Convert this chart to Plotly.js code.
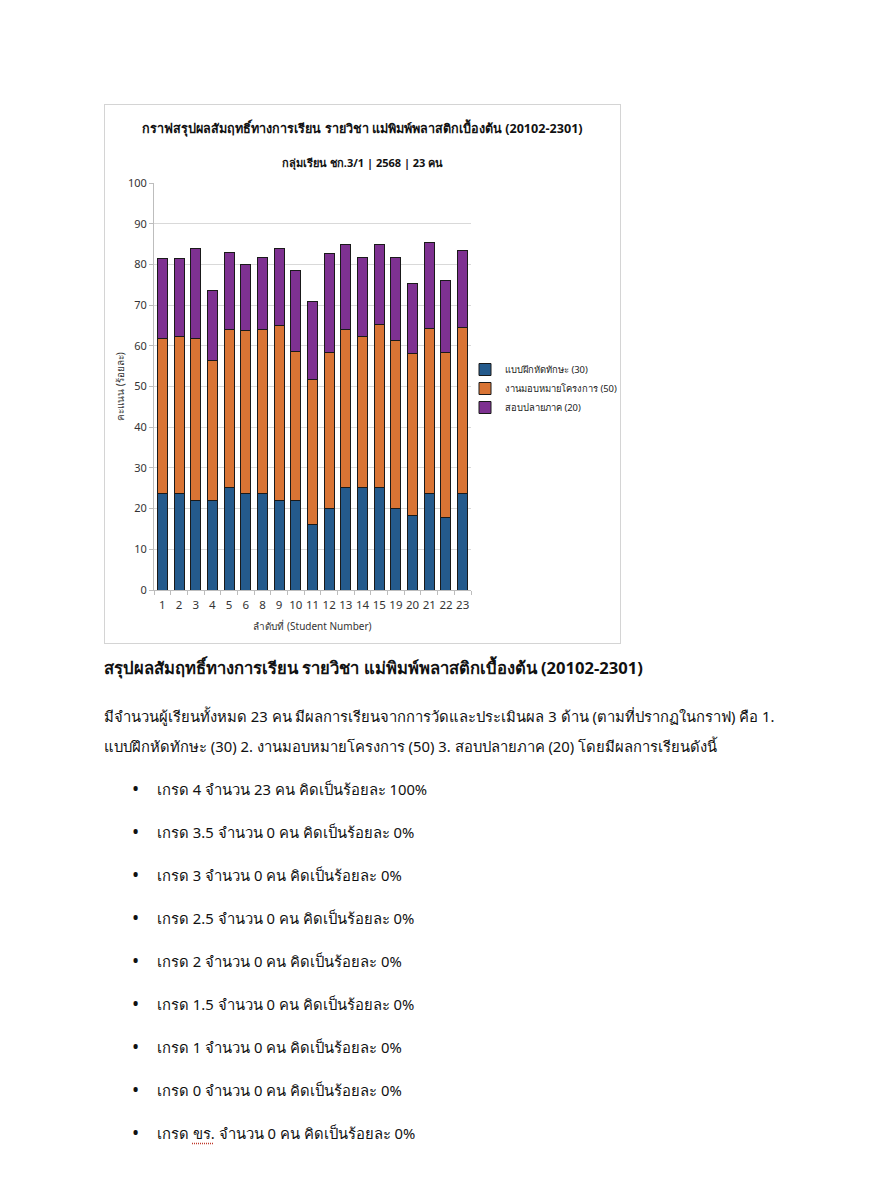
<!DOCTYPE html>
<html>
<head>
<meta charset="utf-8">
<script src="https://cdn.plot.ly/plotly-3.0.1.min.js"></script>
<style>
  html, body { margin: 0; padding: 0; background: #ffffff; }
  body { width: 880px; height: 1187px; position: relative; font-family: "Noto Sans", "DejaVu Sans", sans-serif; color: #111; }
  #chartbox { position: absolute; left: 104px; top: 104px; width: 515px; height: 538px; border: 1px solid #d4d4d4; }
  #chart { width: 515px; height: 538px; }
  .h { position: absolute; left: 104px; top: 655px; font-size: 16.6px; font-weight: bold; line-height: 26px; white-space: nowrap; }
  .p { position: absolute; left: 104px; top: 701px; font-size: 14.8px; line-height: 30px; white-space: nowrap; }
  .b { position: absolute; left: 157px; font-size: 14.8px; line-height: 26px; white-space: nowrap; }
  .b::before { content: "\2022"; position: absolute; left: -25px; font-size: 19px; }
  .sp { text-decoration: underline dotted #c0392b; text-underline-offset: 4px; }
</style>
</head>
<body>
<div id="chartbox"><div id="chart"></div></div>

<div class="h">สรุปผลสัมฤทธิ์ทางการเรียน รายวิชา แม่พิมพ์พลาสติกเบื้องต้น (20102-2301)</div>
<div class="p">มีจำนวนผู้เรียนทั้งหมด 23 คน มีผลการเรียนจากการวัดและประเมินผล 3 ด้าน (ตามที่ปรากฏในกราฟ) คือ 1.<br>แบบฝึกหัดทักษะ (30) 2. งานมอบหมายโครงการ (50) 3. สอบปลายภาค (20) โดยมีผลการเรียนดังนี้</div>
<div id="bullets"></div>

<script>
// ---- data ----
const students = ["1","2","3","4","5","6","8","9","10","11","12","13","14","15","19","20","21","22","23"];
const skills   = [23.6,23.6,22.1,22.1,25.1,23.6,23.6,22.1,22.1,16.1,20.1,25.1,25.1,25.1,20.1,18.3,23.6,17.9,23.8];
const project  = [38.3,38.7,39.7,34.4,38.9,40.2,40.4,42.9,36.4,35.7,38.2,39.0,37.3,40.2,41.3,39.9,40.7,40.4,40.8];
const finalExam= [19.5,19.2,22.0,17.2,19.0,16.2,17.7,19.0,20.0,19.0,24.5,20.9,19.3,19.7,20.4,17.1,21.1,17.8,18.7];
const seriesNames = ["แบบฝึกหัดทักษะ (30)","งานมอบหมายโครงการ (50)","สอบปลายภาค (20)"];
const gradeLabels = ["4","3.5","3","2.5","2","1.5","1","0","ขร."];
const gradeCounts = [23,0,0,0,0,0,0,0,0];
const gradePercents = [100,0,0,0,0,0,0,0,0];

// ---- bullets ----
const bl = document.getElementById('bullets');
gradeLabels.forEach((g, i) => {
  const d = document.createElement('div');
  d.className = 'b';
  d.style.top = (776 + i * 43) + 'px';
  const gl = g === 'ขร.' ? '<span class="sp">' + g + '</span>' : g;
  d.innerHTML = 'เกรด ' + gl + ' จำนวน ' + gradeCounts[i] + ' คน คิดเป็นร้อยละ ' + gradePercents[i] + '%';
  bl.appendChild(d);
});

// ---- chart ----
const colors = ["#245a8c", "#d97434", "#7e3191"];
const vals = [skills, project, finalExam];
const traces = vals.map((v, i) => ({
  type: 'bar',
  x: students,
  y: v,
  name: seriesNames[i],
  marker: { color: colors[i], line: { color: '#1a1a1a', width: 1 } },
  hoverinfo: 'y+name'
}));

const layout = {
  width: 515, height: 538,
  margin: { l: 49, r: 149, t: 78, b: 53, autoexpand: false },
  paper_bgcolor: '#ffffff',
  plot_bgcolor: '#ffffff',
  font: { family: '"Noto Sans", "DejaVu Sans", sans-serif', color: '#333' },
  barmode: 'stack',
  bargap: 0.4,
  title: {
    text: '<b>กราฟสรุปผลสัมฤทธิ์ทางการเรียน รายวิชา แม่พิมพ์พลาสติกเบื้องต้น (20102-2301)</b>',
    font: { size: 12.6, color: '#111' },
    x: 0.5, xref: 'container', xanchor: 'center',
    y: 1 - 24/538, yref: 'container', yanchor: 'middle'
  },
  annotations: [{
    text: '<b>กลุ่มเรียน ชก.3/1 | 2568 | 23 คน</b>',
    xref: 'paper', yref: 'paper',
    x: (257 - 49) / 317, y: (485 - 58) / 407,
    xanchor: 'center', yanchor: 'middle', showarrow: false,
    font: { size: 11, color: '#111' }
  }],
  xaxis: {
    type: 'category',
    tickangle: 0,
    tickfont: { size: 11.5, color: '#333' },
    ticklabelstandoff: 4,
    showgrid: false,
    showline: true, linecolor: '#bdbdbd', linewidth: 1,
    ticks: 'outside', tickson: 'boundaries', ticklen: 4, tickcolor: '#bdbdbd',
    title: { text: 'ลำดับที่ (Student Number)', font: { size: 10, color: '#333' }, standoff: 12 }
  },
  yaxis: {
    range: [0, 100], dtick: 10,
    tickfont: { size: 11, color: '#333' },
    showgrid: true, gridcolor: '#d9d9d9', gridwidth: 1,
    showline: true, linecolor: '#bdbdbd', linewidth: 1,
    ticks: 'outside', ticklen: 4, tickcolor: '#bdbdbd',
    zeroline: false,
    title: { text: 'คะแนน (ร้อยละ)', font: { size: 10, color: '#333' }, standoff: 1 }
  },
  legend: {
    x: (360 - 49) / 317, xanchor: 'left', y: (485 - 250) / 407, yanchor: 'top',
    traceorder: 'normal',
    font: { size: 9.4, color: '#222' },
    itemwidth: 30,
    bgcolor: 'rgba(0,0,0,0)'
  },
  showlegend: true
};

Plotly.newPlot('chart', traces, layout, { displayModeBar: false, staticPlot: true });
</script>
</body>
</html>
